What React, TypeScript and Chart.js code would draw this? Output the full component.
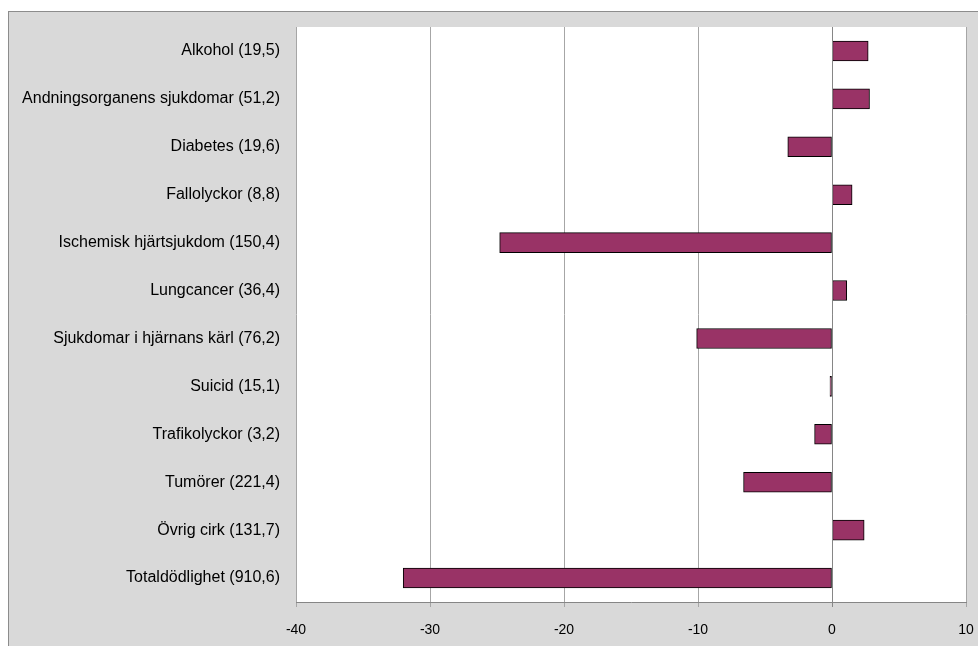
import React, { useEffect, useRef } from "react";
import { Chart, registerables } from "chart.js";

Chart.register(...registerables);

const categories = [
  "Alkohol (19,5)",
  "Andningsorganens sjukdomar (51,2)",
  "Diabetes (19,6)",
  "Fallolyckor (8,8)",
  "Ischemisk hjärtsjukdom (150,4)",
  "Lungcancer (36,4)",
  "Sjukdomar i hjärnans kärl (76,2)",
  "Suicid (15,1)",
  "Trafikolyckor (3,2)",
  "Tumörer (221,4)",
  "Övrig cirk (131,7)",
  "Totaldödlighet (910,6)",
];

const values = [2.7, 2.8, -3.3, 1.5, -24.8, 1.1, -10.1, -0.15, -1.3, -6.6, 2.4, -32.0];

const xMin = -40;
const xMax = 10;
const xStep = 10;

const FONT = "'Liberation Sans', Arial, sans-serif";

const plotBg = {
  id: "plotBg",
  beforeDraw(chart: any) {
    const { ctx, chartArea } = chart;
    if (!chartArea) return;
    ctx.save();
    ctx.fillStyle = "#ffffff";
    ctx.fillRect(chartArea.left, chartArea.top, chartArea.right - chartArea.left, chartArea.bottom - chartArea.top);
    ctx.restore();
  },
  afterDatasetsDraw(chart: any) {
    const { ctx, chartArea, scales } = chart;
    const x = Math.round(scales.x.getPixelForValue(0)) + 0.5;
    ctx.save();
    ctx.strokeStyle = "#868686";
    ctx.lineWidth = 1;
    ctx.beginPath();
    ctx.moveTo(x, chartArea.top);
    ctx.lineTo(x, chartArea.bottom);
    ctx.stroke();
    ctx.restore();
  },
};

function zeroPadding(scale: any) {
  scale.paddingTop = 0;
  scale.paddingBottom = 0;
  scale.paddingLeft = 0;
  scale.paddingRight = 0;
}

export default function App() {
  const ref = useRef<HTMLCanvasElement | null>(null);

  useEffect(() => {
    document.documentElement.style.overflow = "hidden";
    const canvas = ref.current;
    if (!canvas) return;
    const chart = new Chart(canvas, {
      type: "bar",
      data: {
        labels: categories,
        datasets: [
          {
            data: values,
            backgroundColor: "#993366",
            borderColor: "#000000",
            borderWidth: 1,
            borderSkipped: false,
            barThickness: 20,
          },
        ],
      },
      options: {
        indexAxis: "y",
        animation: false,
        responsive: false,
        maintainAspectRatio: false,
        layout: { padding: { left: 0, top: 15, right: 12, bottom: 0 } },
        plugins: {
          legend: { display: false },
          tooltip: { enabled: false },
        },
        scales: {
          x: {
            type: "linear",
            min: xMin,
            max: xMax,
            ticks: {
              stepSize: xStep,
              color: "#000000",
              font: { family: FONT, size: 14 },
              padding: 15,
            },
            grid: {
              color: (ctx: any) => (ctx.tick && ctx.tick.value === 0 ? "#868686" : "#a6a6a6"),
              lineWidth: 1,
              drawTicks: true,
              tickLength: 5,
            },
            border: { display: true, color: "#868686" },
            afterFit: (scale: any) => {
              scale.height = 44;
              zeroPadding(scale);
            },
          },
          y: {
            ticks: {
              color: "#000000",
              font: { family: FONT, size: 16 },
              padding: 16,
            },
            grid: { display: false, drawTicks: false },
            border: { display: false },
            afterFit: (scale: any) => {
              scale.width = 287;
              zeroPadding(scale);
            },
          },
        },
      },
      plugins: [plotBg],
    });
    return () => chart.destroy();
  }, []);

  return (
    <div
      style={{
        position: "fixed",
        left: 8,
        top: 11,
        width: 978,
        height: 640,
        borderTop: "1px solid #8c8c8c",
        borderLeft: "1px solid #8c8c8c",
        background: "#d9d9d9",
      }}
    >
      <canvas ref={ref} width={969} height={634} style={{ display: "block" }} />
    </div>
  );
}
